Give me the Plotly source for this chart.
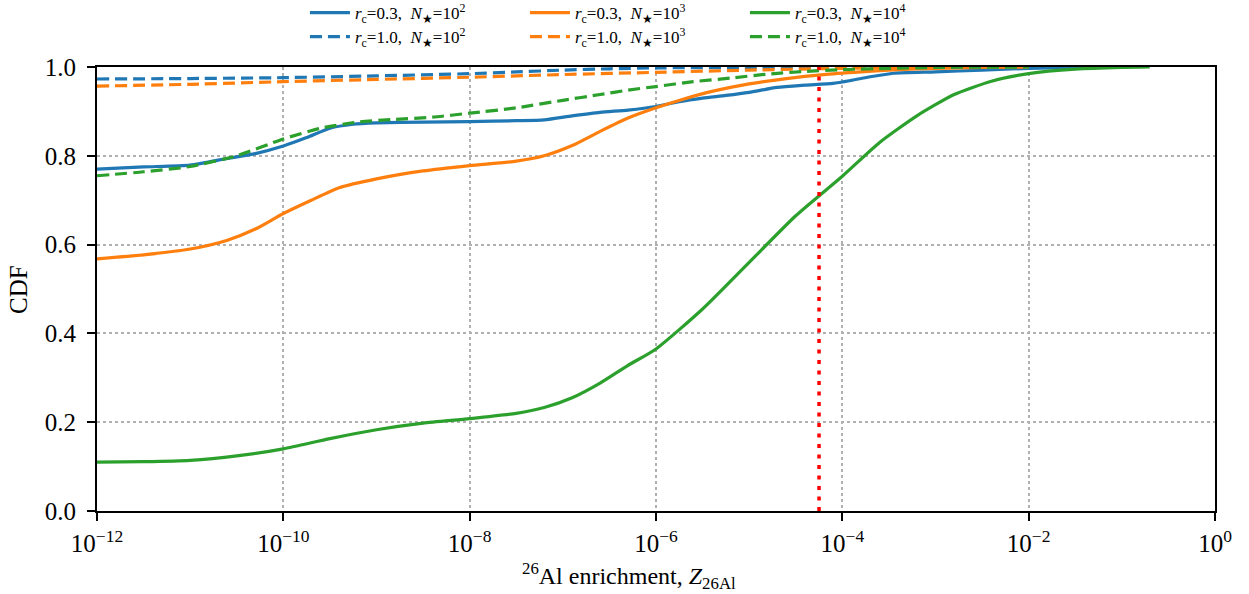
import plotly.graph_objects as go

# ---- data (log10 of Z, CDF) ----
blue_solid_logx = [-12, -11.5, -11, -10.6, -10.3, -10, -9.75, -9.5, -9.25, -9, -8.5, -8, -7.5, -7.2, -6.9, -6.6, -6.3, -6.0,
                   -5.75, -5.5, -5.25, -5.0, -4.7, -4.4, -4.1, -3.9, -3.7, -3.45, -3.0, -2.5, -2.0, -1.5, -1.0]
blue_solid_cdf = [0.770, 0.775, 0.779, 0.794, 0.805, 0.822, 0.841, 0.862, 0.871, 0.874, 0.876, 0.877, 0.879, 0.881, 0.890,
                  0.898, 0.903, 0.911, 0.922, 0.930, 0.936, 0.943, 0.954, 0.959, 0.963, 0.970, 0.978, 0.986, 0.989, 0.993,
                  0.997, 0.999, 1.0]

orange_solid_logx = [-12, -11.5, -11, -10.6, -10.3, -10, -9.7, -9.4, -9, -8.5, -8, -7.5, -7.2, -6.9, -6.6, -6.3, -6.0,
                     -5.7, -5.4, -5.0, -4.6, -4.2, -3.8, -3.4, -3.0, -2.5, -2.0]
orange_solid_cdf = [0.568, 0.577, 0.590, 0.610, 0.635, 0.670, 0.700, 0.728, 0.748, 0.766, 0.778, 0.788, 0.800, 0.823,
                    0.855, 0.885, 0.908, 0.928, 0.945, 0.962, 0.974, 0.983, 0.989, 0.994, 0.997, 0.999, 1.0]

green_solid_logx = [-12, -11.5, -11, -10.5, -10, -9.5, -9, -8.5, -8, -7.5, -7.2, -6.9, -6.6, -6.3, -6.0, -5.5, -5.0,
                    -4.5, -4.0, -3.6, -3.2, -2.8, -2.4, -2.0, -1.5, -1.0, -0.7]
green_solid_cdf = [0.110, 0.111, 0.114, 0.124, 0.140, 0.163, 0.183, 0.198, 0.208, 0.220, 0.233, 0.255, 0.288, 0.328,
                   0.365, 0.455, 0.560, 0.665, 0.754, 0.830, 0.890, 0.938, 0.968, 0.985, 0.995, 0.999, 1.0]

blue_dash_logx = [-12, -11, -10, -9, -8, -7.5, -7, -6.5, -6, -5, -4, -2]
blue_dash_cdf = [0.973, 0.974, 0.976, 0.980, 0.985, 0.989, 0.993, 0.996, 0.998, 0.999, 1.0, 1.0]

orange_dash_logx = [-12, -11, -10, -9, -8, -7, -6, -5, -4, -3, -2]
orange_dash_cdf = [0.957, 0.961, 0.967, 0.972, 0.977, 0.983, 0.988, 0.993, 0.997, 0.999, 1.0]

green_dash_logx = [-12, -11.5, -11, -10.5, -10, -9.6, -9.2, -8.8, -8.4, -8, -7.5, -7.0, -6.6, -6.3, -6.0, -5.6, -5.2,
                   -4.8, -4.4, -4.0, -3.5, -3.0, -2.0]
green_dash_cdf = [0.755, 0.764, 0.776, 0.800, 0.838, 0.862, 0.876, 0.882, 0.887, 0.896, 0.908, 0.925, 0.938, 0.948,
                  0.956, 0.967, 0.975, 0.984, 0.990, 0.994, 0.997, 0.999, 1.0]

ref_logx = -4.25  # vertical red dotted line

tick_vals = [1e-12, 1e-10, 1e-8, 1e-6, 1e-4, 1e-2, 1e0]
tick_text = ["10<sup>−12</sup>", "10<sup>−10</sup>", "10<sup>−8</sup>", "10<sup>−6</sup>",
             "10<sup>−4</sup>", "10<sup>−2</sup>", "10<sup>0</sup>"]

x_title = "<sup>26</sup>Al enrichment, <i>Z</i><sub>26Al</sub>"
y_title = "CDF"

BLUE, ORANGE, GREEN = "#1f77b4", "#ff7f0e", "#2ca02c"
DASH = "12px,6px"
FONT = "Liberation Serif"


def lab(rc, n):
    return f"<i>r</i><sub>c</sub>={rc},  <i>N</i><sub>★</sub>=10<sup>{n}</sup>"


def tx(lx):
    return [10 ** v for v in lx]


fig = go.Figure()
series = [
    (blue_solid_logx, blue_solid_cdf, BLUE, "solid", lab("0.3", 2), "legend"),
    (orange_solid_logx, orange_solid_cdf, ORANGE, "solid", lab("0.3", 3), "legend"),
    (green_solid_logx, green_solid_cdf, GREEN, "solid", lab("0.3", 4), "legend"),
    (blue_dash_logx, blue_dash_cdf, BLUE, DASH, lab("1.0", 2), "legend2"),
    (orange_dash_logx, orange_dash_cdf, ORANGE, DASH, lab("1.0", 3), "legend2"),
    (green_dash_logx, green_dash_cdf, GREEN, DASH, lab("1.0", 4), "legend2"),
]
for lx, cdf, col, dash, name, lg in series:
    fig.add_trace(go.Scatter(x=tx(lx), y=cdf, mode="lines", name=name, legend=lg,
                             line=dict(color=col, width=3.2, dash=dash, shape="spline", smoothing=0.6)))

fig.add_trace(go.Scatter(x=[10 ** ref_logx, 10 ** ref_logx], y=[0, 1], mode="lines", showlegend=False,
                         line=dict(color="red", width=3.5, dash="4px,6.5px")))

legend_common = dict(orientation="h", xanchor="left", yanchor="middle", bgcolor="rgba(0,0,0,0)",
                     font=dict(family=FONT, size=17, color="black"), entrywidth=165, itemwidth=40,
                     tracegroupgap=0)
fig.update_layout(
    width=1249, height=594,
    margin=dict(l=97, r=34, t=67, b=83, autoexpand=False),
    paper_bgcolor="white", plot_bgcolor="white",
    font=dict(family=FONT, size=25, color="black"),
    legend=dict(x=0.186, y=(511 - 13) / 444, **legend_common),
    legend2=dict(x=0.186, y=(511 - 37) / 444, **legend_common),
    xaxis=dict(type="log", range=[-12, 0], tickvals=tick_vals, ticktext=tick_text,
               showgrid=True, gridcolor="#b0b0b0", griddash="dot", gridwidth=1.5,
               showline=True, linecolor="black", linewidth=2, mirror=True,
               ticks="outside", ticklen=8, tickwidth=1.5, tickcolor="black",
               tickfont=dict(size=25), zeroline=False, ticklabelstandoff=1),
    yaxis=dict(range=[0, 1], dtick=0.2, tickformat=".1f",
               showgrid=True, gridcolor="#b0b0b0", griddash="dot", gridwidth=1.5,
               showline=True, linecolor="black", linewidth=2, mirror=True,
               ticks="outside", ticklen=8, tickwidth=1.5, tickcolor="black",
               tickfont=dict(size=25), zeroline=False, ticklabelstandoff=6),
    annotations=[
        dict(text=x_title, xref="paper", yref="paper", x=(629 - 97) / 1118, y=(511 - 576) / 444,
             xanchor="center", yanchor="middle", showarrow=False, font=dict(size=24)),
        dict(text=y_title, xref="paper", yref="paper", x=(18 - 97) / 1118, y=(511 - 290) / 444,
             xanchor="center", yanchor="middle", showarrow=False, textangle=-90, font=dict(size=25)),
    ],
)

fig.write_html("out.html")
